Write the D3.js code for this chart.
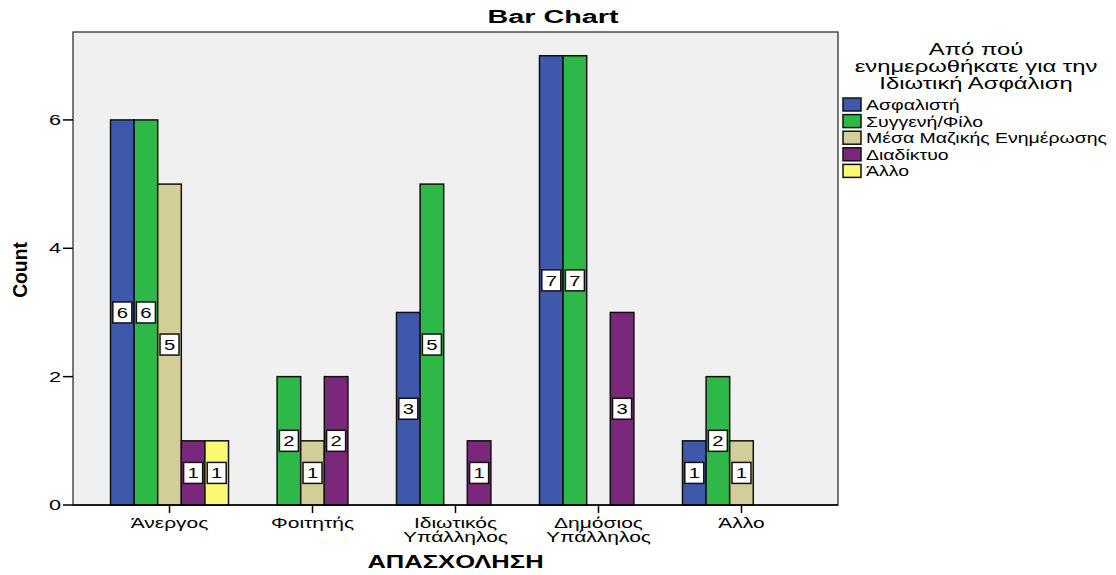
<!DOCTYPE html>
<html>
<head>
<meta charset="utf-8">
<script src="https://cdn.jsdelivr.net/npm/d3@7"></script>
<style>
  body { margin: 0; background: #fff; }
  text { font-family: "Liberation Sans", Arial, sans-serif; fill: #000; }
</style>
</head>
<body>
<svg id="chart" width="1116" height="575"></svg>
<script>
/* chart values */
let categories = [["Άνεργος"], ["Φοιτητής"], ["Ιδιωτικός", "Υπάλληλος"], ["Δημόσιος", "Υπάλληλος"], ["Άλλο"]];
let seriesNames = ["Ασφαλιστή", "Συγγενή/Φίλο", "Μέσα Μαζικής Ενημέρωσης", "Διαδίκτυο", "Άλλο"];
let seriesColors = ["#3e58ac", "#2eb848", "#d3ce97", "#7b287c", "#fbf873"];
let asfalisti = [6, 0, 3, 7, 1];
let syggeni = [6, 2, 5, 7, 2];
let mesa = [5, 1, 0, 0, 1];
let diadiktyo = [1, 2, 1, 3, 0];
let allo = [1, 0, 0, 0, 0];
let yTicks = [0, 2, 4, 6];
let legendTitle = ["Από πού", "ενημερωθήκατε για την", "Ιδιωτική Ασφάλιση"];

let seriesValues = [asfalisti, syggeni, mesa, diadiktyo, allo];

/* plot frame */
let pLeft = 73, pRight = 838, pTop = 32, pBottom = 505;

let svg = d3.select("#chart");

let xScale = d3.scaleBand()
               .domain(d3.range(categories.length))
               .range([pLeft, pRight])
               .paddingInner(0)
               .paddingOuter(0.175);

let groupWidth = 118;
let subScale = d3.scaleBand()
                 .domain(d3.range(seriesNames.length))
                 .range([-groupWidth / 2, groupWidth / 2]);

let yScale = d3.scaleLinear()
               .domain([0, 7.37])
               .range([pBottom, pTop]);

// stretched text, like the original export
function wideText(parent, x, y, str, size, sx, anchor, weight) {
  let g = parent.append("g")
                .attr("transform", `translate(${x},${y}) scale(${sx},1)`);
  g.append("text")
   .attr("text-anchor", anchor || "start")
   .style("font-size", size + "px")
   .style("font-weight", weight || "normal")
   .text(str);
  return g;
}

// plot background
svg.append("rect")
   .attr("x", pLeft).attr("y", pTop)
   .attr("width", pRight - pLeft).attr("height", pBottom - pTop)
   .attr("fill", "#f0f0f0")
   .attr("stroke", "#222").attr("stroke-width", 1.2);

// bars
let bars = svg.append("g");
let rows = [];
seriesValues.forEach((vals, s) => {
  vals.forEach((v, c) => {
    if (v > 0) rows.push({s: s, c: c, v: v});
  });
});

bars.selectAll("rect")
    .data(rows)
    .join("rect")
      .attr("x", d => xScale(d.c) + xScale.bandwidth() / 2 + subScale(d.s))
      .attr("y", d => yScale(d.v))
      .attr("width", subScale.bandwidth())
      .attr("height", d => yScale(0) - yScale(d.v))
      .attr("fill", d => seriesColors[d.s])
      .attr("stroke", "#111")
      .attr("stroke-width", 1.5);

// value labels
rows.forEach(d => {
  let cx = xScale(d.c) + xScale.bandwidth() / 2 + subScale(d.s) + subScale.bandwidth() / 2;
  let cy = yScale(d.v / 2);
  bars.append("rect")
      .attr("x", cx - 9.5).attr("y", cy - 10.5)
      .attr("width", 19).attr("height", 21)
      .attr("fill", "#fff")
      .attr("stroke", "#111").attr("stroke-width", 1.5);
  wideText(bars, cx, cy + 5.5, d.v, 15, 1.35, "middle");
});

// x axis line and ticks
svg.append("line")
   .attr("x1", pLeft).attr("x2", pRight)
   .attr("y1", pBottom).attr("y2", pBottom)
   .attr("stroke", "#000").attr("stroke-width", 1.5);

categories.forEach((lines, i) => {
  let cx = xScale(i) + xScale.bandwidth() / 2;
  svg.append("line")
     .attr("x1", cx).attr("x2", cx)
     .attr("y1", pBottom).attr("y2", pBottom + 8)
     .attr("stroke", "#000").attr("stroke-width", 1.5);
  lines.forEach((t, k) => {
    wideText(svg, cx, 528 + k * 14, t, 14, 1.5, "middle");
  });
});

// y axis ticks
yTicks.forEach(t => {
  let y = yScale(t);
  svg.append("line")
     .attr("x1", pLeft - 10).attr("x2", pLeft)
     .attr("y1", y).attr("y2", y)
     .attr("stroke", "#000").attr("stroke-width", 1.5);
  wideText(svg, pLeft - 12, y + 5, t, 14, 1.55, "end");
});

// titles
wideText(svg, 553, 23, "Bar Chart", 18, 1.6, "middle", "bold");
wideText(svg, (pLeft + pRight) / 2, 568, "ΑΠΑΣΧΟΛΗΣΗ", 18, 1.42, "middle", "bold");

svg.append("g")
   .attr("transform", "translate(27,270) rotate(-90) scale(0.92,1)")
   .append("text")
   .attr("text-anchor", "middle")
   .style("font-size", "21px")
   .style("font-weight", "bold")
   .text("Count");

// legend
let legend = svg.append("g");
legendTitle.forEach((t, i) => {
  wideText(legend, 976, 55 + i * 17, t, 17, 1.4, "middle");
});

seriesNames.forEach((name, i) => {
  let y = 98 + i * 16.6;
  legend.append("rect")
        .attr("x", 843).attr("y", y)
        .attr("width", 18).attr("height", 13)
        .attr("fill", seriesColors[i])
        .attr("stroke", "#111").attr("stroke-width", 1.5);
  wideText(legend, 866, y + 12, name, 15, 1.3, "start");
});
</script>
</body>
</html>
